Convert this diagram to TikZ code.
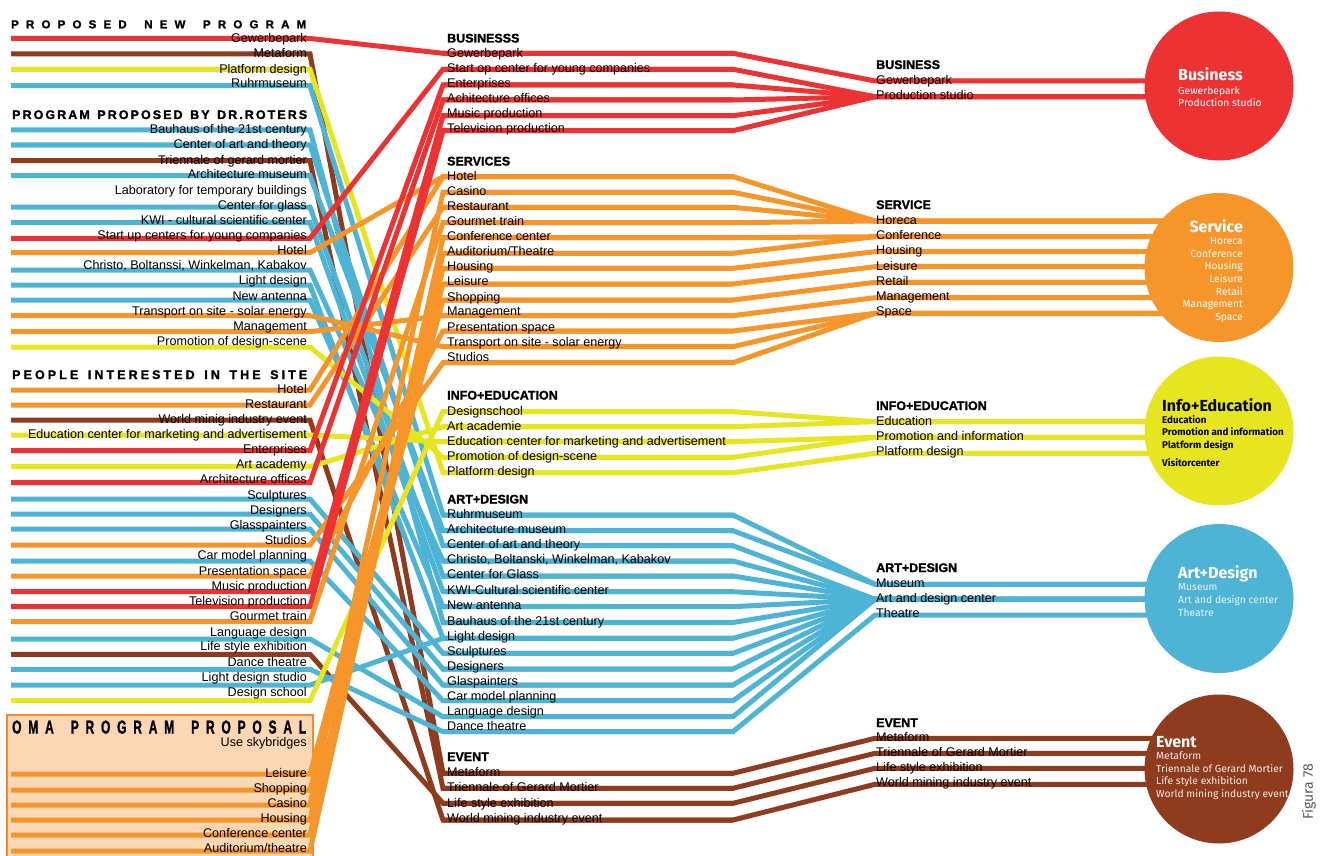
\documentclass[tikz,border=0pt]{standalone}
\usepackage{fontspec}
\usepackage{graphicx}
\setmainfont{Liberation Sans}
\newfontfamily\circfont{Fira Sans}
\newfontfamily\heavyfont[BoldFeatures={FakeBold=1.6}]{Liberation Sans}

\definecolor{biz}{HTML}{EC3232}
\definecolor{serv}{HTML}{F6962A}
\definecolor{info}{HTML}{E7E51F}
\definecolor{art}{HTML}{4EB4D5}
\definecolor{evt}{HTML}{8F3B1E}
\definecolor{omafill}{HTML}{FCD7B4}
\definecolor{omaline}{HTML}{F28A32}

% letter spaced headings
\def\spreadchars#1{\ifx#1\relax\else#1\hfill\expandafter\spreadchars\fi}
\newcommand\spreadline[2]{\hbox to #1{\spreadchars#2\relax\unskip}}

% name/text y/line y/colour/target/text
\def\leftlist{%
L1/38.3/38.5/biz/MGew/Gewerbepark,
L2/53.3/54/evt/MMeta/Metaform,
L3/69/69.3/info/MPlat/Platform design,
L4/83.3/85.7/art/MRuhr/Ruhrmuseum,
L5/129/130/art/MBauhaus/Bauhaus of the 21st century,
L6/144.3/145/art/MCat/Center of art and theory,
L7/160/160.7/evt/MTri/Triennale of gerard mortier,
L8/174.3/175.7/art/MArchmus/Architecture museum,
L9/205/207/art/MGlass/Center for glass,
L10/220/222.7/art/MKwi/KWI - cultural scientific center,
L11/235/238.3/biz/MStart/Start up centers for young companies,
L12/250/252.7/serv/MHotel/Hotel,
L13/265/270/art/MChristo/{Christo, Boltanssi, Winkelman, Kabakov},
L14/280/285/art/MLight/Light design,
L15/295.5/300/art/MAntenna/New antenna,
L16/310.7/315.7/serv/MTrans/Transport on site - solar energy,
L17/326/331.7/serv/MMgmt/Management,
L18/341/347/info/MProm/Promotion of design-scene,
L19/389/390/serv/MHotel/Hotel,
L20/403.5/405/serv/MRest/Restaurant,
L21/419/420/evt/MWorld/World minig industry event,
L22/434/435/info/MEdu/Education center for marketing and advertisement,
L23/449.3/450.7/biz/MEnt/Enterprises,
L24/464.3/466.7/info/MArtac/Art academy,
L25/479.3/482.7/biz/MArch/Architecture offices,
L26/495/499/art/MSculpt/Sculptures,
L27/510/514/art/MDesigners/Designers,
L28/525/529/art/MGlasp/Glasspainters,
L29/540/545/serv/MStudios/Studios,
L30/555/561/art/MCar/Car model planning,
L31/570.7/576/serv/MPres/Presentation space,
L32/585.7/591.7/biz/MMusic/Music production,
L33/600.7/606.7/biz/MTv/Television production,
L34/615.5/621.7/serv/MGourmet/Gourmet train,
L35/631.7/639/art/MLang/Language design,
L36/646/654.3/evt/MLife/Life style exhibition,
L37/661.7/669.3/art/MDance/Dance theatre,
L38/676.7/685/art/MLight/Light design studio,
L39/691.7/700.7/info/MDesign/Design school,
L40/772.7/774/serv/MLeisure/Leisure,
L41/787.7/790/serv/MShop/Shopping,
L42/802.7/805/serv/MCasino/Casino,
L43/817.7/820/serv/MHousing/Housing,
L44/832.7/835/serv/MConf/Conference center,
L45/848.3/851/serv/MAud/{Auditorium/theatre}}

\def\midlist{%
MGew/52.7/53.3/biz/RGew/Gewerbepark,
MStart/68.3/69.3/biz/RProd/Start op center for young companies,
MEnt/83.3/85/biz/RProd/Enterprises,
MArch/98.3/100/biz/RProd/Achitecture offices,
MMusic/113.3/115.7/biz/RProd/Music production,
MTv/128.3/130.7/biz/RProd/Television production,
MHotel/175.7/176.7/serv/RHoreca/Hotel,
MCasino/190.7/192.3/serv/RHoreca/Casino,
MRest/205.8/207.3/serv/RHoreca/Restaurant,
MGourmet/221/222.7/serv/RHoreca/Gourmet train,
MConf/236/237.7/serv/RConf/Conference center,
MAud/251/253.3/serv/RConf/{Auditorium/Theatre},
MHousing/266/268.3/serv/RHous/Housing,
MLeisure/281/284/serv/RLeis/Leisure,
MShop/296.7/300/serv/RRetail/Shopping,
MMgmt/311/315.7/serv/RMgmt/Management,
MPres/326.7/331/serv/RSpace/Presentation space,
MTrans/341.7/346.7/serv/RSpace/Transport on site - solar energy,
MStudios/356.7/362.7/serv/RSpace/Studios,
MDesign/410.7/411.7/info/REdu/Designschool,
MArtac/425.7/426.7/info/REdu/Art academie,
MEdu/440.7/441.7/info/RPromo/Education center for marketing and advertisement,
MProm/455.7/457.3/info/RPromo/Promotion of design-scene,
MPlat/470.7/472.7/info/RPlatf/Platform design,
MRuhr/514.3/515/art/RMuseum/Ruhrmuseum,
MArchmus/529.3/530.7/art/RMuseum/Architecture museum,
MCat/544.3/545.7/art/RAdc/Center of art and theory,
MChristo/559.3/561/art/RAdc/{Christo, Boltanski, Winkelman, Kabakov},
MGlass/574.3/576/art/RAdc/Center for Glass,
MKwi/590/591.7/art/RAdc/KWI-Cultural scientific center,
MAntenna/605/606.7/art/RAdc/New antenna,
MBauhaus/620.5/622.5/art/RAdc/Bauhaus of the 21st century,
MLight/635.7/638.3/art/RAdc/Light design,
MSculpt/650.7/653.3/art/RAdc/Sculptures,
MDesigners/665.7/669/art/RAdc/Designers,
MGlasp/680.7/685/art/RAdc/Glaspainters,
MCar/696/700.7/art/RAdc/Car model planning,
MLang/711/716.7/art/RAdc/Language design,
MDance/726/731.7/art/RTheatre/Dance theatre,
MMeta/772.3/773.3/evt/RMeta/Metaform,
MTri/787.3/788.3/evt/RTri/Triennale of Gerard Mortier,
MLife/802.7/803.3/evt/RLife/Life style exhibition,
MWorld/817.7/820/evt/RWorld/World mining industry event}

\def\rightlist{%
RGew/80/81/Gewerbepark,
RProd/95/96.7/Production studio,
RHoreca/220/221/Horeca,
RConf/235/236.7/Conference,
RHous/250/251.7/Housing,
RLeis/265.7/266.7/Leisure,
RRetail/280.7/282.3/Retail,
RMgmt/295.7/297.7/Management,
RSpace/310.7/313.3/Space,
REdu/421/421.7/Education,
RPromo/436/437.3/Promotion and information,
RPlatf/451/453.3/Platform design,
RMuseum/583.3/584.3/Museum,
RAdc/598.3/599.3/Art and design center,
RTheatre/613.3/615/Theatre,
RMeta/737.3/738.3/Metaform,
RTri/752.3/753.3/Triennale of Gerard Mortier,
RLife/767.3/768.3/Life style exhibition,
RWorld/782.3/784.3/World mining industry event}

\begin{document}
\begin{tikzpicture}[x=1pt,y=-1pt,
  band/.style={line width=5pt, line join=miter, miter limit=4},
  lbl/.style={inner sep=0pt, font=\fontsize{12.6}{14}\selectfont},
  head/.style={inner sep=0pt, anchor=base west, font=\heavyfont\fontsize{12.5}{14}\selectfont\bfseries},
  disc/.style={circle, minimum size=149pt, inner sep=0pt},
  ctitle/.style={inner sep=0pt, font=\circfont\fontsize{16}{16}\selectfont\bfseries},
  citem/.style={inner sep=0pt, font=\circfont\fontsize{10.3}{12}\selectfont}]
\useasboundingbox (0,0) rectangle (1330,856);
\clip (0,0) rectangle (1330,856);

% OMA box
\draw[omaline, fill=omafill, line width=2.5pt] (7,715) rectangle (313,875);

% coordinates
\foreach \n/\ty/\ly/\txt in \rightlist {
  \coordinate (\n-in) at (875,\ly);
  \coordinate (\n-out) at (1200,\ly);
}
\foreach \n/\ty/\ly/\col/\to/\txt in \midlist {
  \coordinate (\n-in) at (443,\ly);
  \coordinate (\n-out) at (733,\ly);
}
\foreach \n/\ty/\ly/\col/\to/\txt in \leftlist {
  \coordinate (\n-a) at (11,\ly);
  \coordinate (\n-b) at (310,\ly);
}

% bands: middle to circles
\foreach \n/\ty/\ly/\col/\to/\txt in \midlist
  \draw[band, color=\col] (\n-in) -- (\n-out) -- (\to-in) -- (\to-out);
% bands: left lists to middle
\foreach \n/\ty/\ly/\col/\to/\txt in \leftlist
  \draw[band, color=\col] (\n-a) -- (\n-b) -- (\to-in) -- (\to-out);

% circles
\node[disc, fill=biz] (cBiz) at (1219,86) {};
\node[disc, fill=serv] (cServ) at (1219,267.5) {};
\node[disc, fill=info] (cInfo) at (1219,431) {};
\node[disc, fill=art] (cArt) at (1219,598.5) {};
\node[disc, fill=evt] (cEvt) at (1219,769) {};

% labels
\foreach \n/\ty/\ly/\col/\to/\txt in \leftlist
  \node[lbl, anchor=base east] (\n-t) at (307,\ty+4.5) {\txt};
\node[lbl, anchor=base east] (Lab-t) at (307,194.5) {Laboratory for temporary buildings};
\node[lbl, anchor=base east] (Sky-t) at (307,746.8) {Use skybridges};
\foreach \n/\ty/\ly/\col/\to/\txt in \midlist
  \node[lbl, anchor=base west] (\n-t) at (447,\ty+4.5) {\txt};
\foreach \n/\ty/\ly/\txt in \rightlist
  \node[lbl, anchor=base west] (\n-t) at (876,\ty+4.5) {\txt};

% left headings
\node[inner sep=0pt, anchor=base west] (hNew) at (11,28.3)
  {\heavyfont\fontsize{11.5}{12}\selectfont\bfseries\spreadline{295pt}{PROPOSED~NEW~PROGRAM}};
\node[inner sep=0pt, anchor=base west] (hRoters) at (12,119)
  {\heavyfont\fontsize{12.5}{14}\selectfont\bfseries\spreadline{295pt}{PROGRAM~PROPOSED~BY~DR.ROTERS}};
\node[inner sep=0pt, anchor=base west] (hPeople) at (12,379)
  {\heavyfont\fontsize{12.5}{14}\selectfont\bfseries\spreadline{295pt}{PEOPLE~INTERESTED~IN~THE~SITE}};
\node[inner sep=0pt, anchor=base west] (hOma) at (12,733.5)
  {\scalebox{1}[1.55]{\heavyfont\fontsize{12}{12}\selectfont\bfseries\spreadline{294pt}{OMA~PROGRAM~PROPOSAL}}};

% middle and right headings
\node[head] (hMBiz) at (447,42.5) {BUSINESSS};
\node[head] (hMServ) at (447,165.5) {SERVICES};
\node[head] (hMInfo) at (447,399.5) {INFO+EDUCATION};
\node[head] (hMArt) at (447,503.5) {ART+DESIGN};
\node[head] (hMEvt) at (447,761) {EVENT};
\node[head] (hRBiz) at (876,69) {BUSINESS};
\node[head] (hRServ) at (876,209) {SERVICE};
\node[head] (hRInfo) at (876,410) {INFO+EDUCATION};
\node[head] (hRArt) at (876,572) {ART+DESIGN};
\node[head] (hREvt) at (876,727) {EVENT};

% circle texts
\node[ctitle, text=white, anchor=base west] (tBiz) at (1178,81) {Business};
\foreach \t [count=\i] in {Gewerbepark, Production studio}
  \node[citem, text=white, anchor=base west] (tBiz\i) at (1178,{81.5+\i*12.6}) {\t};
\node[ctitle, text=white, anchor=base east] (tServ) at (1243,232) {Service};
\foreach \t [count=\i] in {Horeca, Conference, Housing, Leisure, Retail, Management, Space}
  \node[citem, text=white, anchor=base east] (tServ\i) at (1243,{231.6+\i*12.7}) {\t};
\node[ctitle, text=black, anchor=base west] (tInfo) at (1162,411) {Info+Education};
\foreach \t [count=\i] in {Education, Promotion and information, Platform design}
  \node[citem, text=black, font=\circfont\fontsize{9.8}{12}\selectfont\bfseries, anchor=base west] (tInfo\i) at (1162,{410.8+\i*12.5}) {\t};
\node[citem, text=black, font=\circfont\fontsize{9.8}{12}\selectfont\bfseries, anchor=base west] (tInfo4) at (1162,466.6) {Visitorcenter};
\node[ctitle, text=white, anchor=base west] (tArt) at (1178,578) {Art+Design};
\foreach \t [count=\i] in {Museum, Art and design center, Theatre}
  \node[citem, text=white!85!art, anchor=base west] (tArt\i) at (1178,{577.9+\i*12.7}) {\t};
\node[ctitle, text=white, anchor=base west] (tEvt) at (1156,747) {Event};
\foreach \t [count=\i] in {Metaform, Triennale of Gerard Mortier, Life style exhibition, World mining industry event}
  \node[citem, text=white!90!evt, anchor=base west] (tEvt\i) at (1156,{746.6+\i*12.7}) {\t};

% figure number
\node[inner sep=0pt, rotate=90, text=black!65, font=\circfont\fontsize{14}{14}\selectfont] (fig) at (1309,792) {Figura 78};
\end{tikzpicture}
\end{document}
